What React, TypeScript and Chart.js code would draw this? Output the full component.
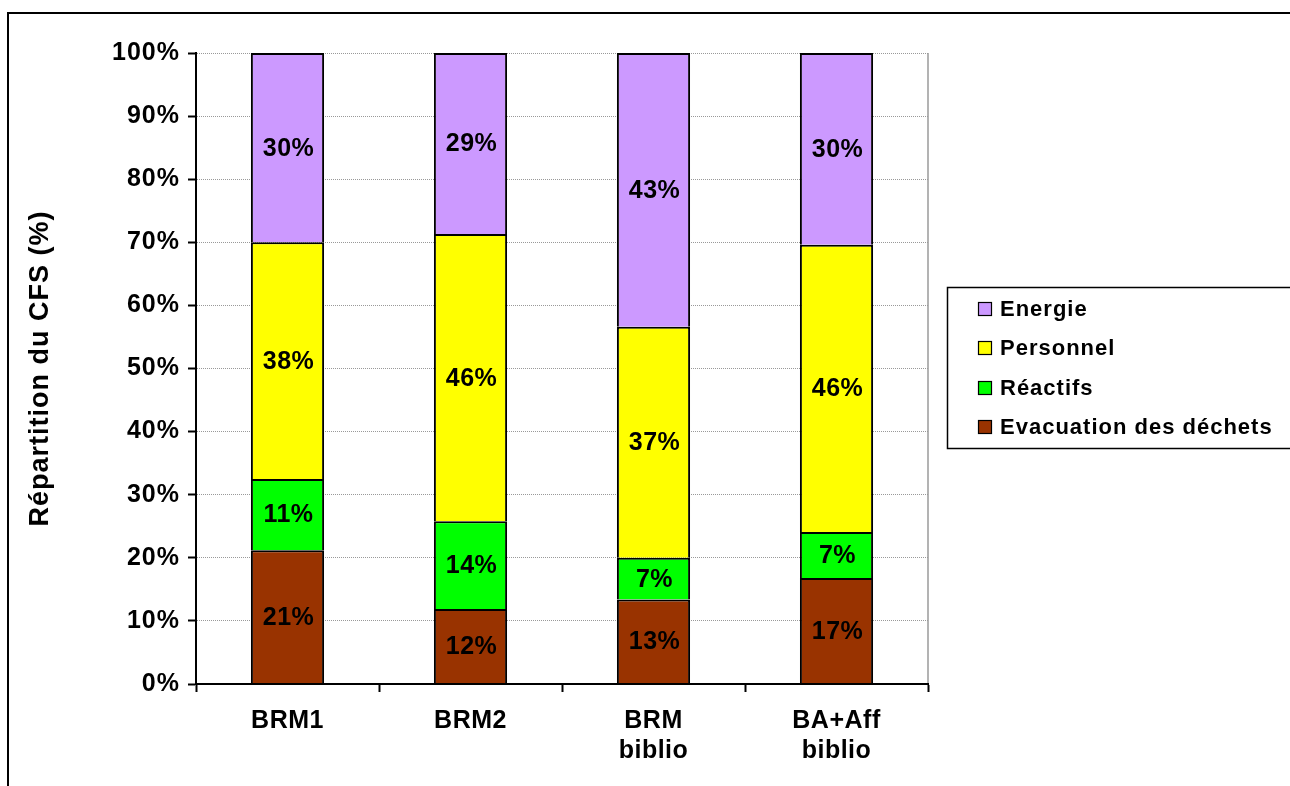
import React, { useEffect, useRef } from "react";
import { Chart, registerables } from "chart.js";

Chart.register(...registerables);

// ---- data ----
const categories: string[][] = [["BRM1"], ["BRM2"], ["BRM", "biblio"], ["BA+Aff", "biblio"]];
const seriesNames = ["Evacuation des déchets", "Réactifs", "Personnel", "Energie"];
const evacuation = [21.2, 11.9, 13.4, 16.8];
const reactifs = [11.3, 13.9, 6.6, 7.3];
const personnel = [37.5, 45.5, 36.6, 45.5];
const energie = [30.0, 28.7, 43.4, 30.4];
const seriesColors = ["#993300", "#00FF00", "#FFFF00", "#CC99FF"];
const yAxisTitle = "Répartition du CFS (%)";
const yMin = 0;
const yMax = 100;
const yStep = 10;

const FONT = '"Liberation Sans", Arial, Helvetica, sans-serif';

const decorPlugin = {
  id: "decor",
  beforeDraw(chart: any) {
    const ctx = chart.ctx;
    ctx.letterSpacing = "1px";
  },
  beforeDatasetsDraw(chart: any) {
    const ctx = chart.ctx;
    const a = chart.chartArea;
    ctx.save();
    ctx.strokeStyle = "#9a9a9a";
    ctx.lineWidth = 1.5;
    ctx.beginPath();
    ctx.moveTo(a.right, a.top);
    ctx.lineTo(a.right, a.bottom);
    ctx.stroke();
    ctx.restore();
  },
  afterDatasetsDraw(chart: any) {
    const ctx = chart.ctx;
    ctx.save();
    ctx.font = `bold 25px ${FONT}`;
    ctx.letterSpacing = "0.5px";
    ctx.fillStyle = "#000";
    ctx.textAlign = "center";
    ctx.textBaseline = "middle";
    chart.data.datasets.forEach((ds: any, di: number) => {
      const meta = chart.getDatasetMeta(di);
      meta.data.forEach((bar: any, i: number) => {
        const v = ds.data[i] as number;
        const p = bar.getProps(["x", "y", "base"], true);
        ctx.fillText(Math.round(v) + "%", p.x + 1, (p.y + p.base) / 2 + 1);
      });
    });
    ctx.restore();
    ctx.letterSpacing = "0.5px";
  },
  afterDraw(chart: any) {
    const ctx = chart.ctx;
    ctx.save();
    ctx.letterSpacing = "0px";
    // outer frame
    ctx.strokeStyle = "#000";
    ctx.lineWidth = 2;
    ctx.strokeRect(8, 13, 1400, 900);
    // legend
    ctx.lineWidth = 1.5;
    ctx.strokeRect(947.5, 287.5, 400, 161);
    ctx.font = `bold 22px ${FONT}`;
    ctx.letterSpacing = "1px";
    ctx.textAlign = "left";
    ctx.textBaseline = "middle";
    const rows = [309, 348, 388, 427];
    const n = chart.data.datasets.length;
    for (let k = 0; k < n; k++) {
      const ds = chart.data.datasets[n - 1 - k];
      const cy = rows[k];
      ctx.fillStyle = ds.backgroundColor;
      ctx.fillRect(978, cy - 7, 14, 14);
      ctx.lineWidth = 1.2;
      ctx.strokeStyle = "#000";
      ctx.strokeRect(978.5, cy - 6.5, 13, 13);
      ctx.fillStyle = "#000";
      ctx.fillText(ds.label, 1000, cy + 1);
    }
    ctx.restore();
  },
};

export default function App() {
  const ref = useRef<HTMLCanvasElement | null>(null);

  useEffect(() => {
    if (!ref.current) return;
    const values = [evacuation, reactifs, personnel, energie];
    const chart = new Chart(ref.current, {
      type: "bar",
      data: {
        labels: categories,
        datasets: seriesNames.map((name, i) => ({
          label: name,
          data: values[i],
          backgroundColor: seriesColors[i],
          borderColor: "#000",
          borderWidth: 2,
          categoryPercentage: 1,
          barPercentage: 0.4,
        })),
      },
      options: {
        responsive: false,
        animation: false,
        layout: { padding: { left: 0, top: 53, right: 362, bottom: 0 } },
        plugins: {
          legend: { display: false },
          tooltip: { enabled: false },
        },
        scales: {
          x: {
            stacked: true,
            offset: true,
            grid: {
              offset: true,
              drawOnChartArea: false,
              drawTicks: true,
              tickLength: 8,
              tickColor: "#000",
              tickWidth: 2,
            },
            border: { display: true, color: "#000", width: 2, z: 1 },
            ticks: {
              color: "#000",
              font: { family: FONT, size: 25, weight: "bold" },
              padding: 14,
              maxRotation: 0,
              autoSkip: false,
              z: 1,
            },
            afterFit: (s: any) => {
              s.height = 102;
            },
          },
          y: {
            stacked: true,
            min: yMin,
            max: yMax,
            ticks: {
              stepSize: yStep,
              callback: (v: any) => v + "%",
              color: "#000",
              font: { family: FONT, size: 25, weight: "bold" },
              padding: 8,
            },
            grid: {
              color: "#999999",
              lineWidth: 1,
              tickColor: "#000",
              tickLength: 8,
              tickWidth: 2,
            },
            border: { display: true, color: "#000", width: 2, dash: [1, 1], z: 1 },
            title: {
              display: true,
              text: yAxisTitle,
              color: "#000",
              font: { family: FONT, size: 27, weight: "bold" },
              padding: { top: 24, bottom: 0 },
            },
            afterFit: (s: any) => {
              s.width = 196;
            },
          },
        },
      } as any,
      plugins: [decorPlugin],
    });
    return () => chart.destroy();
  }, []);

  return (
    <div
      style={{
        position: "fixed",
        left: 0,
        top: 0,
        width: 1290,
        height: 786,
        background: "#fff",
        overflow: "hidden",
      }}
    >
      <canvas ref={ref} width={1290} height={786} style={{ display: "block" }} />
    </div>
  );
}
